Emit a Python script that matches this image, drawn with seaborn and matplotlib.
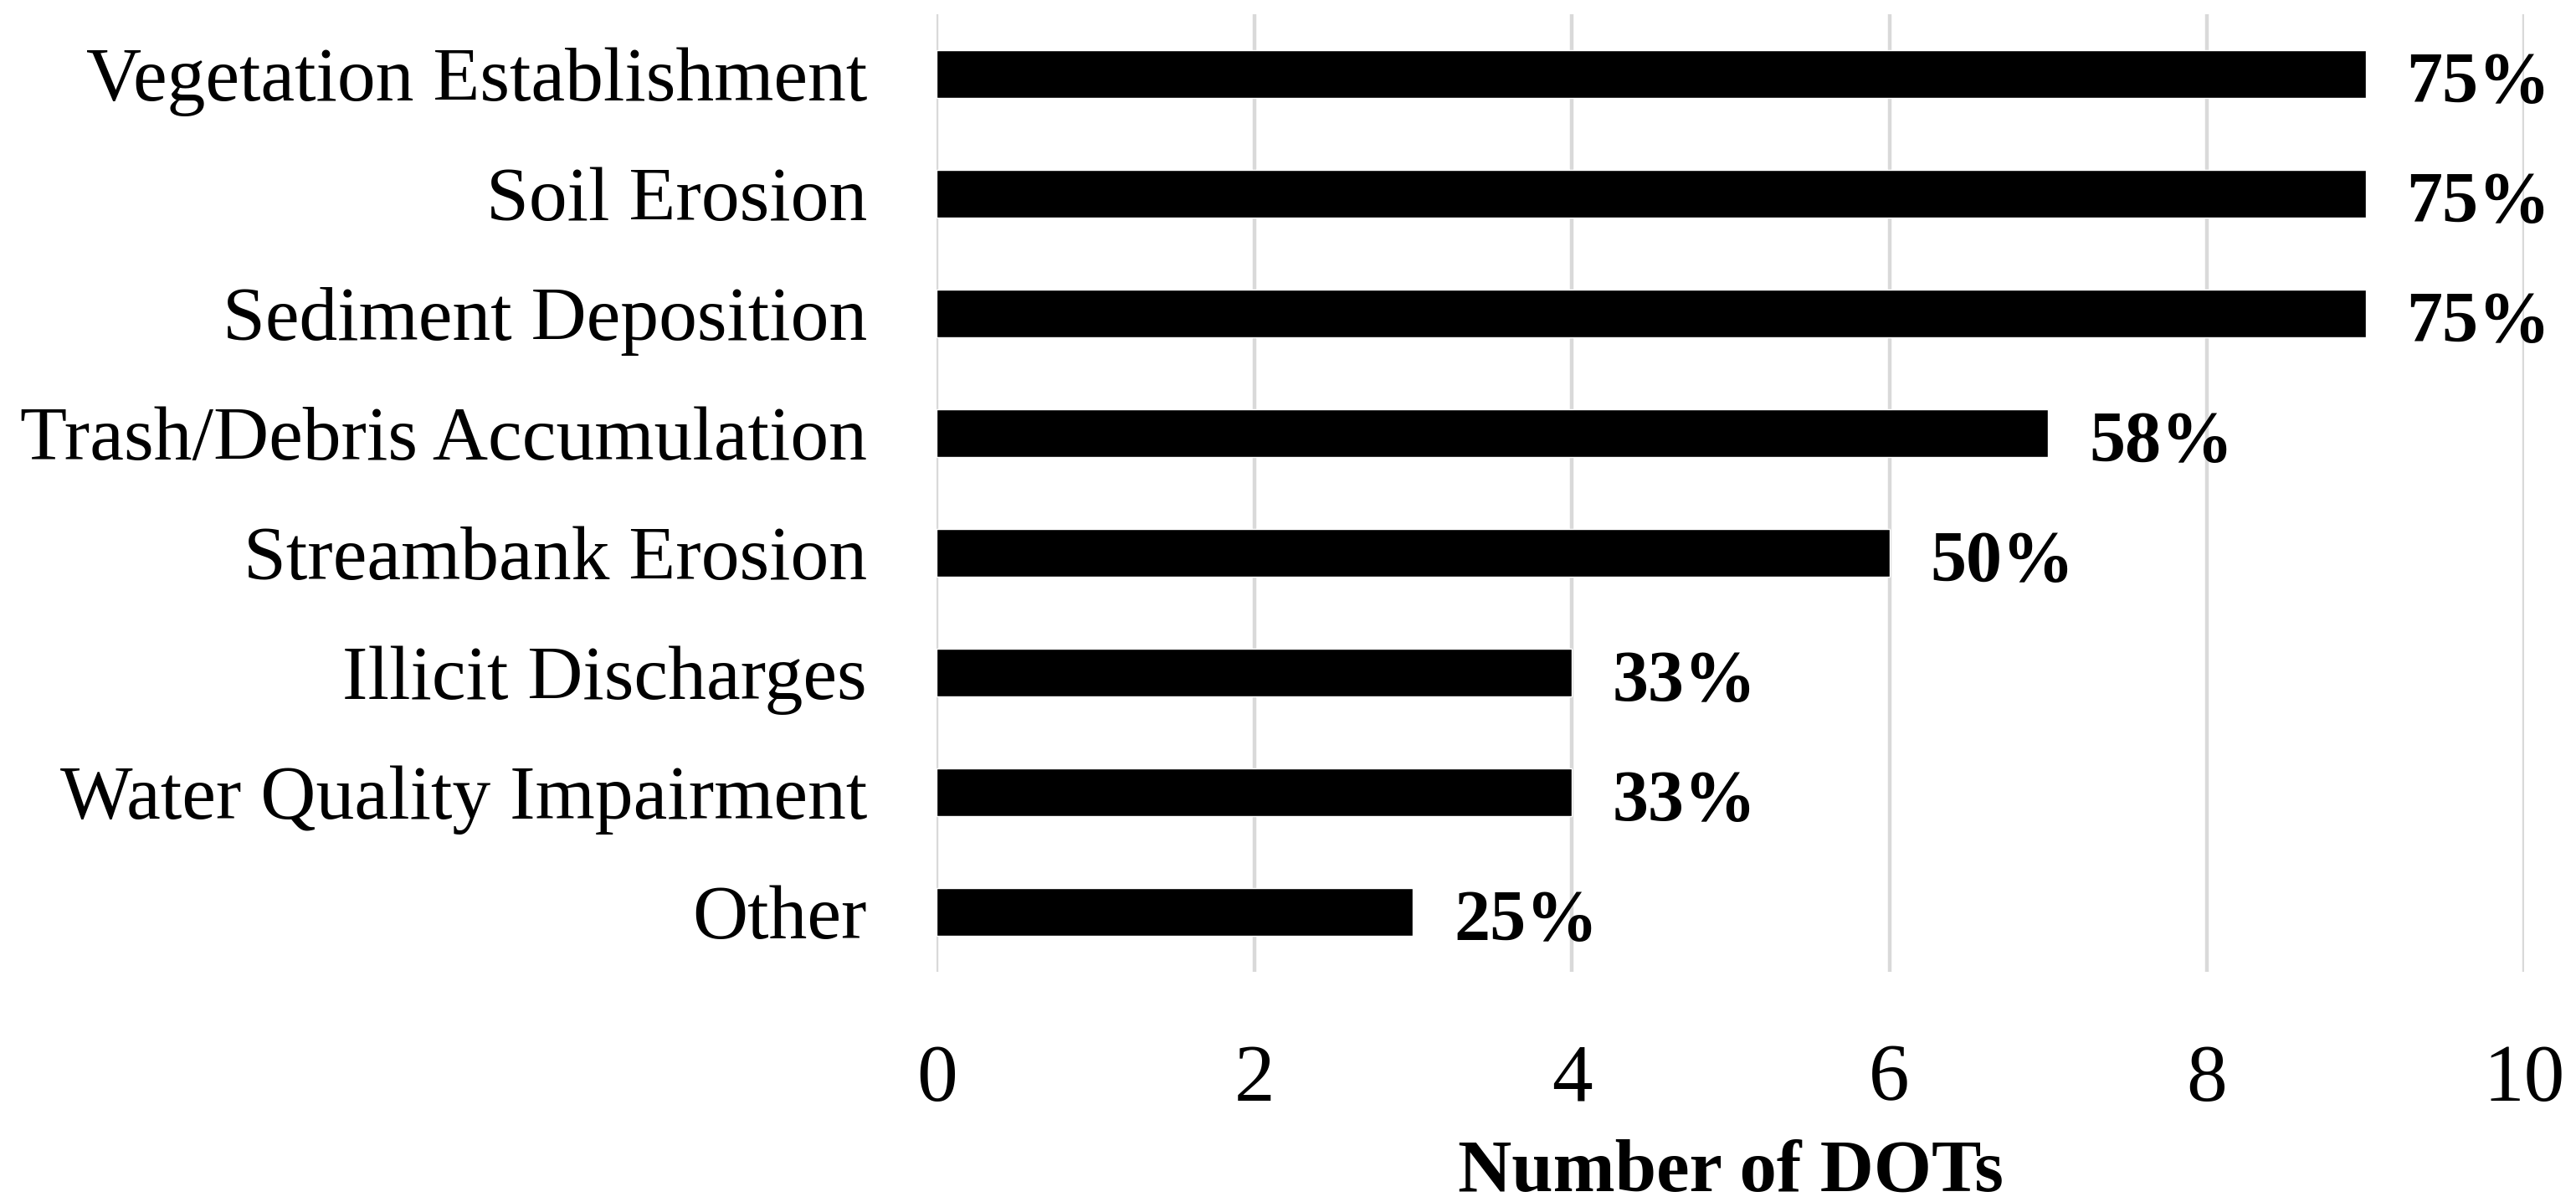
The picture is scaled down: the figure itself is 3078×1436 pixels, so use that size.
import matplotlib
matplotlib.use('Agg')
import matplotlib.pyplot as plt
import seaborn as sns
import pandas as pd

# Données du graphique
categories = ['Vegetation Establishment', 'Soil Erosion', 'Sediment Deposition',
              'Trash/Debris Accumulation', 'Streambank Erosion', 'Illicit Discharges',
              'Water Quality Impairment', 'Other']
counts = [9, 9, 9, 7, 6, 4, 4, 3]
pct_labels = ['75%', '75%', '75%', '58%', '50%', '33%', '33%', '25%']

df = pd.DataFrame({'Issue': categories, 'DOTs': counts})

sns.set_style('white', {'text.color': 'black', 'xtick.color': 'black',
                        'ytick.color': 'black', 'axes.labelcolor': 'black'})
plt.rcParams['font.family'] = ['Liberation Serif', 'DejaVu Serif']

fig = plt.figure(figsize=(30.78, 14.36), dpi=100)
ax = fig.add_axes([0.3636, 0.1915, 0.6164, 0.7965])

sns.barplot(data=df, x='DOTs', y='Issue', orient='h', color='black',
            width=0.4, saturation=1, ax=ax)

anns = ax.bar_label(ax.containers[0], labels=pct_labels, padding=35,
                    fontsize=62, fontweight='bold', color='black')
# Décaler légèrement les étiquettes vers le bas
for a in anns:
    a.xyann = (35, -9)

# Axes et grille
ax.set_xlim(0, 10)
ax.set_xticks(range(0, 11, 2))
ax.xaxis.grid(True, color='#d9d9d9', linewidth=3.2)
ax.set_axisbelow(True)
for s in ax.spines.values():
    s.set_visible(False)
ax.tick_params(axis='x', labelsize=70, length=0, pad=62)
ax.tick_params(axis='y', labelsize=66, length=0, pad=60)
ax.set_ylabel('')
ax.set_xlabel('Number of DOTs', fontsize=64, fontweight='bold', labelpad=18)

fig.savefig('out.png', dpi=100)
